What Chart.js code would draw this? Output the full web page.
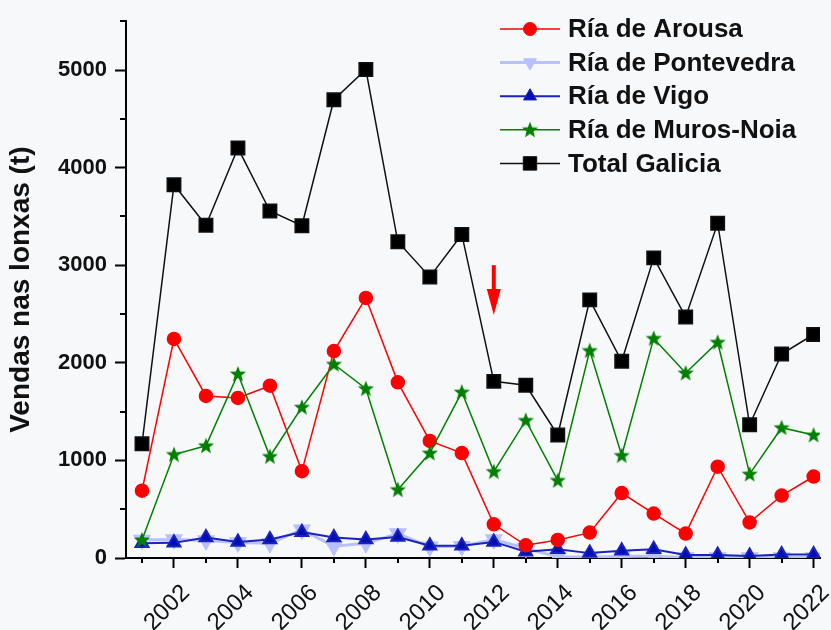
<!DOCTYPE html>
<html>
<head>
<meta charset="utf-8">
<title>Vendas nas lonxas</title>
<script src="https://cdn.jsdelivr.net/npm/chart.js@4.4.1/dist/chart.umd.min.js"></script>
<style>
	body { margin: 0; background: #f6f8fa; }
	#chart-area { display: block; }
</style>
</head>
<body>
<canvas id="chart-area" width="831" height="630"></canvas>
<script>
var anos = [2001, 2002, 2003, 2004, 2005, 2006, 2007, 2008, 2009, 2010, 2011,
	2012, 2013, 2014, 2015, 2016, 2017, 2018, 2019, 2020, 2021, 2022];

var arousa = [690, 2245, 1660, 1640, 1765, 890, 2120, 2665, 1800, 1200, 1075,
	345, 130, 185, 260, 665, 455, 250, 935, 365, 640, 835];
var pontevedra = [185, 190, 180, 160, 150, 290, 120, 150, 250, 115, 120,
	190, 100, 10, 10, 15, 20, 5, 5, 5, 5, 5];
var vigo = [150, 155, 210, 165, 190, 265, 210, 190, 215, 125, 125,
	165, 65, 90, 50, 75, 90, 30, 30, 20, 35, 35];
var murosNoia = [185, 1060, 1150, 1885, 1040, 1545, 1985, 1735, 700, 1075, 1700,
	885, 1410, 795, 2125, 1050, 2250, 1895, 2210, 860, 1335, 1260];
var totalGalicia = [1170, 3825, 3410, 4200, 3555, 3405, 4695, 5005, 3240, 2880, 3315,
	1810, 1770, 1260, 2645, 2015, 3075, 2470, 3430, 1365, 2090, 2290];

// frecha vermella (ano e valores de inicio e fin)
var frechaAno = 2012;
var frechaDesde = 3000;
var frechaAta = 2490;

var yTicks = [0, 1000, 2000, 3000, 4000, 5000];
var xTicks = [2002, 2004, 2006, 2008, 2010, 2012, 2014, 2016, 2018, 2020, 2022];

function serie(valores){
	return anos.map(function(a, i){ return {x: a, y: valores[i]}; });
}

// estrela enchida para Muros-Noia
var estrela = document.createElement('canvas');
estrela.width = 18;
estrela.height = 18;
(function(){
	var c = estrela.getContext('2d');
	c.fillStyle = '#008000';
	c.beginPath();
	for (var i = 0; i < 10; i++) {
		var r = (i % 2 === 0) ? 8.5 : 3.6;
		var ang = -Math.PI / 2 + i * Math.PI / 5;
		var px = 9 + r * Math.cos(ang), py = 9.5 + r * Math.sin(ang);
		if (i === 0) c.moveTo(px, py); else c.lineTo(px, py);
	}
	c.closePath();
	c.fill();
})();

var fonte = "'Liberation Sans', Arial, sans-serif";

// marcas menores, frecha e lenda
var extras = {
	id: 'extras',
	afterDraw: function(chart){
		var ctx = chart.ctx;
		var x = chart.scales.x, y = chart.scales.y;
		ctx.save();
		ctx.strokeStyle = '#000';
		ctx.lineWidth = 2;
		y.ticks.forEach(function(t){
			if (yTicks.indexOf(t.value) < 0) {
				var py = Math.round(y.getPixelForValue(t.value));
				ctx.beginPath();
				ctx.moveTo(x.left - 6, py);
				ctx.lineTo(x.left, py);
				ctx.stroke();
			}
		});
		x.ticks.forEach(function(t){
			if (xTicks.indexOf(t.value) < 0) {
				var px = Math.round(x.getPixelForValue(t.value));
				ctx.beginPath();
				ctx.moveTo(px, y.bottom);
				ctx.lineTo(px, y.bottom + 5);
				ctx.stroke();
			}
		});

		// frecha
		var fx = x.getPixelForValue(frechaAno);
		var f1 = y.getPixelForValue(frechaDesde);
		var f2 = y.getPixelForValue(frechaAta);
		ctx.fillStyle = '#ff0000';
		ctx.fillRect(fx - 2, f1, 4, (f2 - f1) - 24);
		ctx.beginPath();
		ctx.moveTo(fx - 7, f2 - 26);
		ctx.lineTo(fx + 7, f2 - 26);
		ctx.lineTo(fx, f2);
		ctx.closePath();
		ctx.fill();

		// lenda
		var lx = 500, ly = 29, paso = 33.6;
		ctx.font = 'bold 26px ' + fonte;
		ctx.textBaseline = 'middle';
		chart.data.datasets.forEach(function(d, i){
			var yy = ly + i * paso;
			ctx.strokeStyle = d.borderColor;
			ctx.lineWidth = d.borderWidth;
			ctx.beginPath();
			ctx.moveTo(lx, yy);
			ctx.lineTo(lx + 60, yy);
			ctx.stroke();
			ctx.fillStyle = d.backgroundColor;
			ctx.lineWidth = 1;
			Chart.helpers.drawPoint(ctx, {
				pointStyle: d.pointStyle,
				rotation: d.pointRotation || 0,
				radius: d.pointRadius,
				borderWidth: 1
			}, lx + 30, yy);
			ctx.fillStyle = '#111';
			ctx.fillText(d.label, lx + 68, yy + 1);
		});
		ctx.restore();
	}
};

var config = {
	type: 'line',
	data: {
		datasets: [{
			label: 'Ría de Arousa',
			data: serie(arousa),
			borderColor: '#ff0000',
			backgroundColor: '#ff0000',
			borderWidth: 1.5,
			pointStyle: 'circle',
			pointRadius: 6.5,
			order: 2
		}, {
			label: 'Ría de Pontevedra',
			data: serie(pontevedra),
			borderColor: '#b8c0ff',
			backgroundColor: '#b8c0ff',
			borderWidth: 3,
			pointStyle: 'triangle',
			pointRotation: 180,
			pointRadius: 7.5,
			order: 4
		}, {
			label: 'Ría de Vigo',
			data: serie(vigo),
			borderColor: '#1a22c0',
			backgroundColor: '#0010b0',
			borderWidth: 2,
			pointStyle: 'triangle',
			pointRadius: 7.5,
			order: 3
		}, {
			label: 'Ría de Muros-Noia',
			data: serie(murosNoia),
			borderColor: '#008000',
			backgroundColor: '#008000',
			borderWidth: 1.5,
			pointStyle: estrela,
			pointRadius: 8,
			order: 1
		}, {
			label: 'Total Galicia',
			data: serie(totalGalicia),
			borderColor: '#111111',
			backgroundColor: '#000000',
			borderWidth: 1.5,
			pointStyle: 'rect',
			pointRadius: 9.5,
			order: 0
		}]
	},
	options: {
		responsive: false,
		animation: false,
		devicePixelRatio: 1,
		elements: {
			line: { tension: 0 },
			point: { borderWidth: 1 }
		},
		layout: { padding: { top: 18, right: 9, left: 0, bottom: 0 } },
		plugins: {
			legend: { display: false },
			tooltip: { enabled: false }
		},
		scales: {
			x: {
				type: 'linear',
				min: 2000.5,
				max: 2022.2,
				border: { color: '#000', width: 2 },
				grid: {
					drawOnChartArea: false,
					tickLength: 10,
					tickWidth: 2,
					tickColor: function(c){ return (c.tick && xTicks.indexOf(c.tick.value) >= 0) ? '#000' : 'rgba(0,0,0,0)'; }
				},
				ticks: {
					stepSize: 1,
					includeBounds: false,
					autoSkip: false,
					minRotation: 45,
					maxRotation: 45,
					labelOffset: 12,
					padding: 11,
					color: '#111',
					font: { family: fonte, size: 24 },
					callback: function(v){ return xTicks.indexOf(v) >= 0 ? String(v) : ''; }
				},
				afterFit: function(s){
					s.height = 72;
					s.paddingLeft = 0;
					s.paddingRight = 0;
				}
			},
			y: {
				min: 0,
				max: 5500,
				border: { color: '#000', width: 2 },
				grid: {
					drawOnChartArea: false,
					tickLength: 11,
					tickWidth: 2,
					tickColor: function(c){ return (c.tick && yTicks.indexOf(c.tick.value) >= 0) ? '#000' : 'rgba(0,0,0,0)'; }
				},
				ticks: {
					stepSize: 500,
					autoSkip: false,
					padding: 8,
					color: '#111',
					font: { family: fonte, size: 22, weight: 'bold' },
					callback: function(v){ return yTicks.indexOf(v) >= 0 ? String(v) : ''; }
				},
				title: {
					display: true,
					text: 'Vendas nas lonxas (t)',
					color: '#111',
					padding: { top: 4, bottom: 0 },
					font: { family: fonte, size: 28, weight: 'bold' }
				},
				afterFit: function(s){
					s.width = 126;
				}
			}
		}
	},
	plugins: [extras]
};

var ctx = document.getElementById('chart-area').getContext('2d');
window.miGrafico = new Chart(ctx, config);
</script>
</body>
</html>
